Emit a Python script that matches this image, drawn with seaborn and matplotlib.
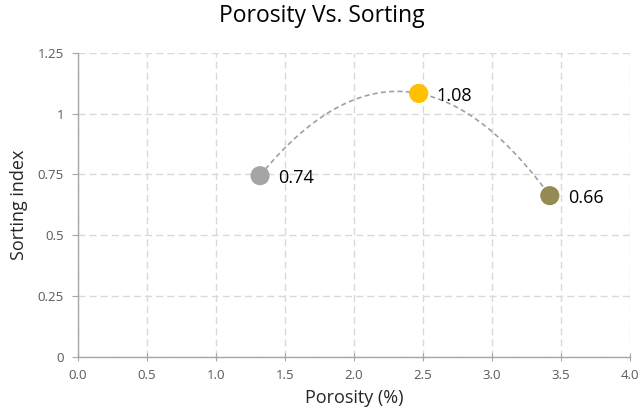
import matplotlib
matplotlib.use("Agg")
import matplotlib.pyplot as plt
import numpy as np
import pandas as pd
import seaborn as sns

# data
porosity = [1.32, 2.47, 3.42]
sorting = [0.745, 1.083, 0.663]
point_labels = ['0.74', '1.08', '0.66']
point_colors = ['#A5A5A5', '#FFC000', '#948A54']

df = pd.DataFrame({'porosity': porosity, 'sorting': sorting, 'name': point_labels})

sns.set_style('white')
plt.rcParams['font.family'] = ['Open Sans', 'DejaVu Sans']

fig = plt.figure(figsize=(6.44, 4.19), dpi=100)
ax = fig.add_axes([0.121, 0.148, 0.857, 0.726])

# smoothed connector through the points
coef = np.polyfit(porosity, sorting, 2)
xs = np.linspace(porosity[0], porosity[-1], 200)
ax.plot(xs, np.polyval(coef, xs), color='#A0A0A0', lw=1.2, ls=(0, (3, 2)), zorder=2)

sns.scatterplot(data=df, x='porosity', y='sorting', hue='name', palette=point_colors,
                s=190, edgecolor='none', legend=False, ax=ax, zorder=3)

for x, y, t in zip(porosity, sorting, point_labels):
    ax.annotate(t, (x, y), xytext=(13, -2), textcoords='offset points',
                ha='left', va='center', fontsize=13, color='#000000')

ax.set_xlim(0, 4)
ax.set_ylim(0, 1.25)
ax.set_xticks(np.arange(0, 4.01, 0.5))
ax.set_xticklabels([f'{v:.1f}' for v in np.arange(0, 4.01, 0.5)])
ax.set_yticks([0, 0.25, 0.5, 0.75, 1, 1.25])
ax.set_yticklabels(['0', '0.25', '0.5', '0.75', '1', '1.25'])
ax.grid(True, color='#D9D9D9', ls=(0, (5, 3)), lw=1)
ax.set_axisbelow(True)

for s in ['top', 'right']:
    ax.spines[s].set_visible(False)
for s in ['left', 'bottom']:
    ax.spines[s].set_color('#A6A6A6')
    ax.spines[s].set_linewidth(1)
ax.tick_params(axis='x', direction='inout', length=6, color='#A6A6A6',
               labelsize=9.5, labelcolor='#595959', pad=6, bottom=True)
ax.tick_params(axis='y', direction='out', length=4, color='#A6A6A6',
               labelsize=9.5, labelcolor='#595959', pad=6, left=True)

ax.set_xlabel('Porosity (%)', fontsize=13, color='#262626', labelpad=5)
ax.set_ylabel('Sorting index', fontsize=13, color='#262626', labelpad=7)
fig.suptitle('Porosity Vs. Sorting', fontsize=16.5, color='#000000', y=0.99)

fig.savefig('out.png', dpi=100)
